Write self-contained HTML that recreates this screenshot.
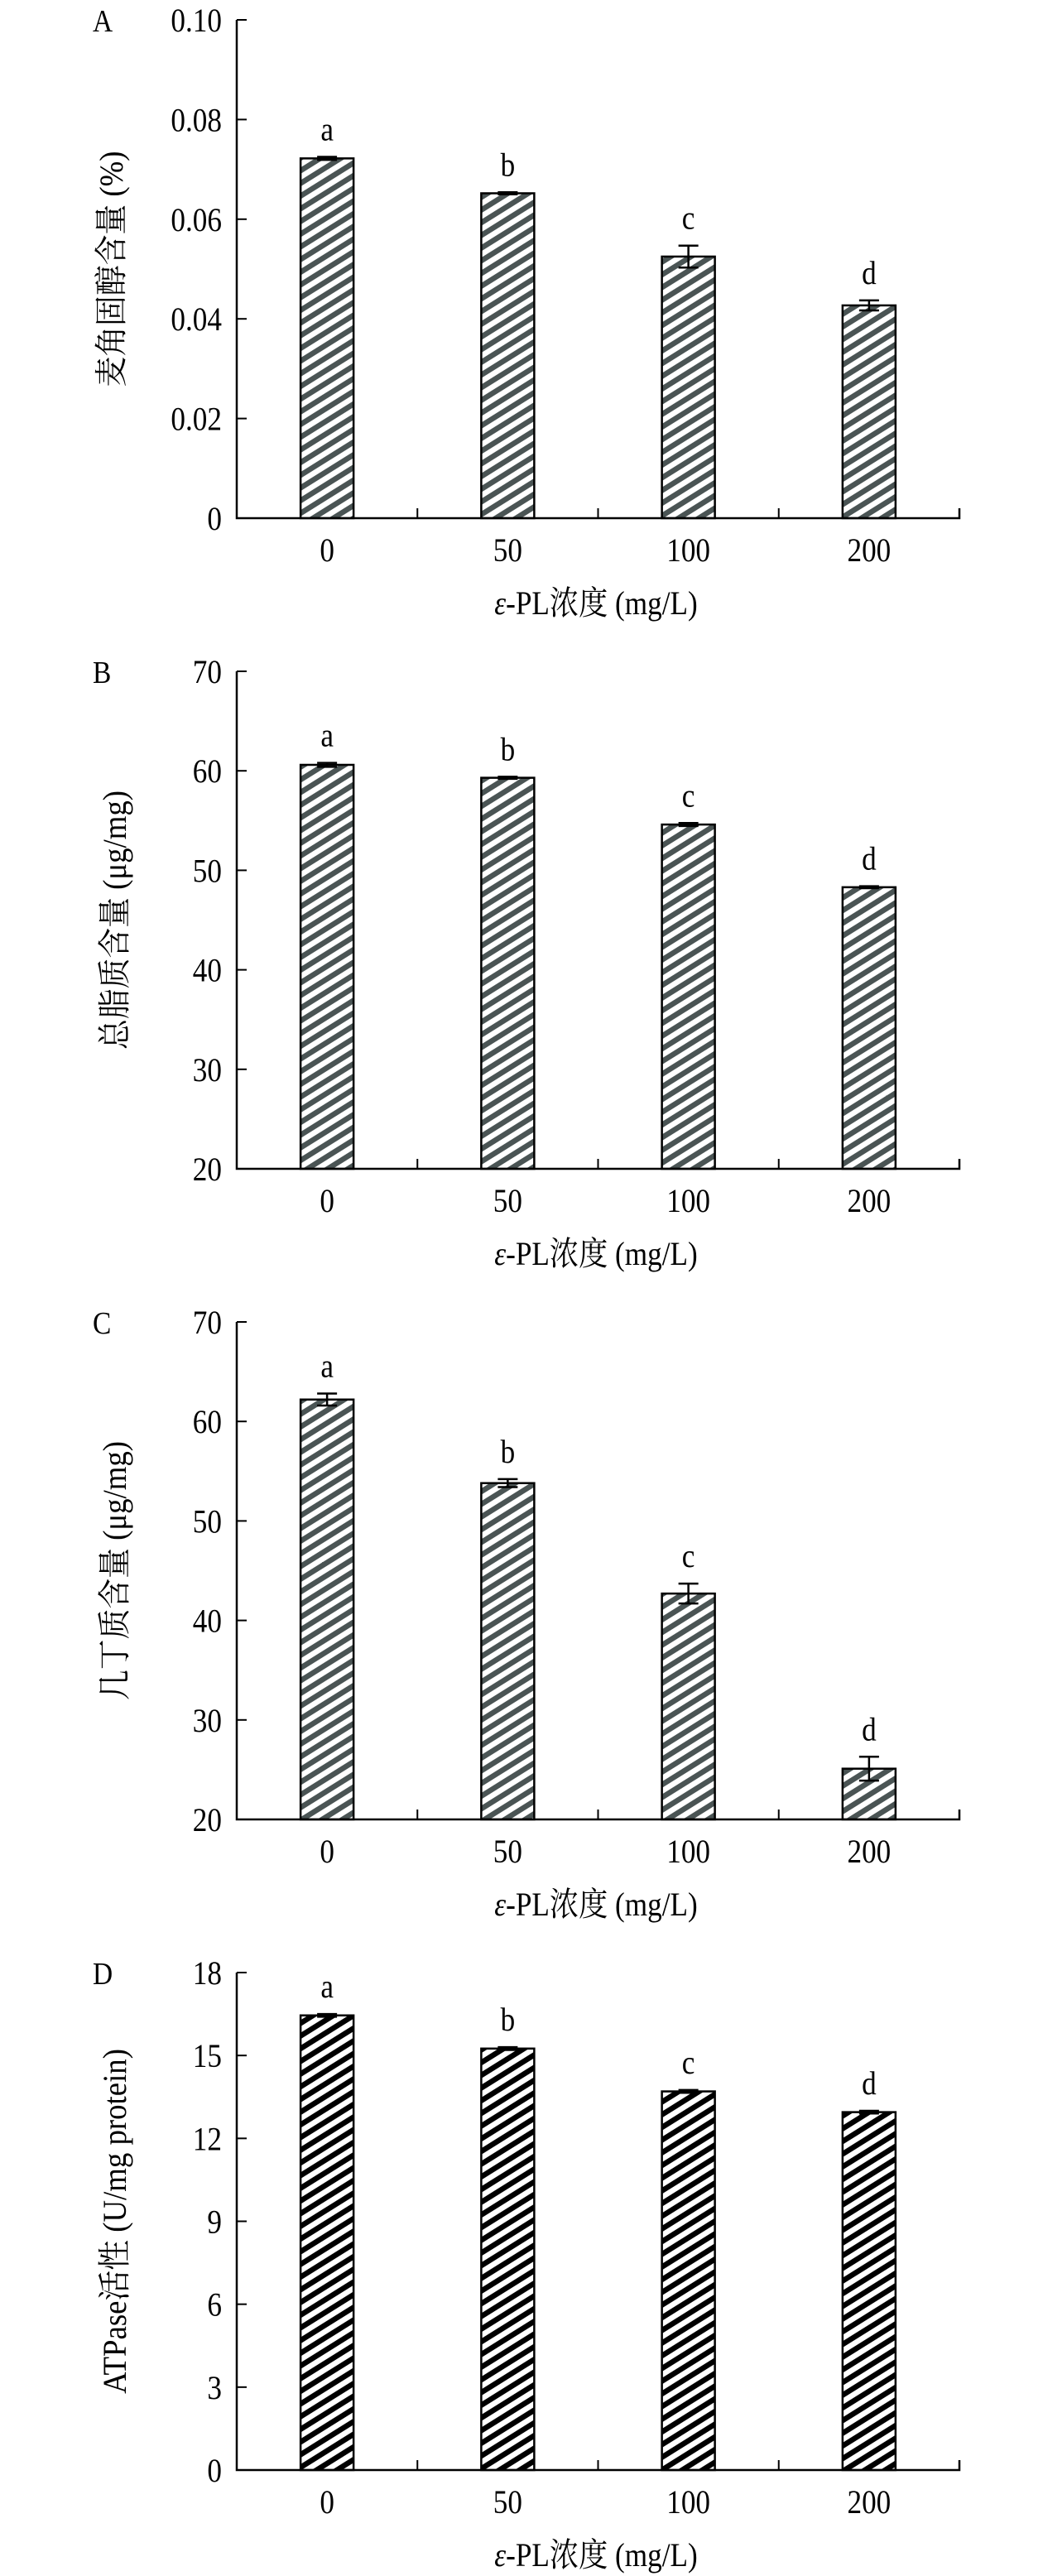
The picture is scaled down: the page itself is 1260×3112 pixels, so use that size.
<!DOCTYPE html>
<html><head><meta charset="utf-8"><style>
html,body{margin:0;padding:0;background:#fff}
svg{display:block}
text{font-family:"Liberation Serif","Noto Serif CJK SC",serif;fill:#000}
</style></head><body>
<svg id="fig" width="1260" height="3112" viewBox="0 0 1260 3112">
<defs>
<pattern id="pg" width="13" height="13" patternUnits="userSpaceOnUse" patternTransform="rotate(-32)"><rect width="13" height="13" fill="#fff"/><rect width="13" height="6.5" fill="#4a5454"/></pattern>
<pattern id="pk" width="13" height="13" patternUnits="userSpaceOnUse" patternTransform="rotate(-32)"><rect width="13" height="13" fill="#fff"/><rect width="13" height="6.5" fill="#000"/></pattern>
</defs>
</svg>
<script>
const categories = ["0","50","100","200"];
const sigLetters = ["a","b","c","d"];
const valuesA = [0.0722,0.0652,0.0525,0.0427];
const errorsA = [0.0003,0.0002,0.0022,0.0010];
const ticksA = [0,0.02,0.04,0.06,0.08,0.10];
const tickLabelsA = ["0","0.02","0.04","0.06","0.08","0.10"];
const valuesB = [60.6,59.3,54.6,48.3];
const errorsB = [0.2,0.1,0.15,0.1];
const ticksB = [20,30,40,50,60,70];
const valuesC = [62.2,53.8,42.7,25.1];
const errorsC = [0.6,0.4,1.0,1.2];
const ticksC = [20,30,40,50,60,70];
const valuesD = [16.45,15.25,13.7,12.95];
const errorsD = [0.05,0.05,0.05,0.05];
const ticksD = [0,3,6,9,12,15,18];

const NS="http://www.w3.org/2000/svg";
const svg=document.getElementById('fig');
function mk(tag,attrs,parent,txt){const e=document.createElementNS(NS,tag);for(const k in attrs)e.setAttribute(k,attrs[k]);if(txt!==undefined)e.textContent=txt;parent.appendChild(e);return e;}
// narrow text: scale x by 0.88 around anchor point
function nt(x,y,size,anchor,parent,txt){
  return mk('text',{x:x/0.88,y:y,'font-size':size,'text-anchor':anchor,transform:'scale(0.88,1)'},parent,txt);
}

function panel(id,letter,top,bottom,ticks,labels,values,errors,yTitle,fill){
  const g=mk('g',{},svg);
  
  
  const x0=286,x1=1159,min=ticks[0],max=ticks[ticks.length-1];
  const y=v=>bottom-(v-min)/(max-min)*(bottom-top);
  const band=(x1-x0)/categories.length;
  const xc=i=>x0+band*(i+0.5);
  const pl=nt(112,top+14,38,'start',g,letter);
  
  
  ticks.forEach((t,i)=>{
    const tk=mk('line',{x1:x0,x2:x0+12,y1:y(t),y2:y(t),stroke:'#000','stroke-width':2},g);
    
    
    const tl=nt(268,y(t)+14,40,'end',g,labels[i]);
    
    
  });
  categories.forEach((c,i)=>{
    const v=values[i],e=errors[i],bw=64;
    const b=mk('rect',{x:xc(i)-bw/2,y:y(v),width:bw,height:bottom-y(v),fill:'url(#'+fill+')',stroke:'#000','stroke-width':2.5},g);
    
    
    const eg=mk('path',{d:`M${xc(i)-12},${y(v+e)}H${xc(i)+12}M${xc(i)},${y(v+e)}V${y(v-e)}M${xc(i)-12},${y(v-e)}H${xc(i)+12}`,stroke:'#000','stroke-width':2.5,fill:'none'},g);
    
    
    const sl=nt(xc(i),y(v+e)-20,40,'middle',g,sigLetters[i]);
    
    
    const xl=nt(xc(i),bottom+52,40,'middle',g,c);
    
    
    if(i>0){const xt=mk('line',{x1:x0+band*i,x2:x0+band*i,y1:bottom,y2:bottom-12,stroke:'#000','stroke-width':2},g);
      
      }
  });
  const ax=mk('path',{d:`M${x0},${top}V${bottom}H${x1}V${bottom-12}`,stroke:'#000','stroke-width':2.5,fill:'none'},g);
  
  
  const xt=mk('text',{x:720/0.88,y:bottom+116,'font-size':40,'text-anchor':'middle',transform:'scale(0.88,1)'},g);
  
  
  mk('tspan',{'font-style':'italic'},xt,'ε');
  mk('tspan',{},xt,'-PL浓度 (mg/L)');
  const yt=mk('text',{x:0,y:0,'font-size':40,'text-anchor':'middle',transform:`translate(${id==='A'?148:152},${(top+bottom)/2}) rotate(-90) scale(0.92,1)`},g,yTitle);
  
  
}
panel('A','A',24,626,ticksA,tickLabelsA,valuesA,errorsA,'麦角固醇含量 (%)','pg');
panel('B','B',811,1412,ticksB,ticksB.map(String),valuesB,errorsB,'总脂质含量 (μg/mg)','pg');
panel('C','C',1597,2198,ticksC,ticksC.map(String),valuesC,errorsC,'几丁质含量 (μg/mg)','pg');
panel('D','D',2383,2984,ticksD,ticksD.map(String),valuesD,errorsD,'ATPase活性 (U/mg protein)','pk');
</script>
</body></html>
